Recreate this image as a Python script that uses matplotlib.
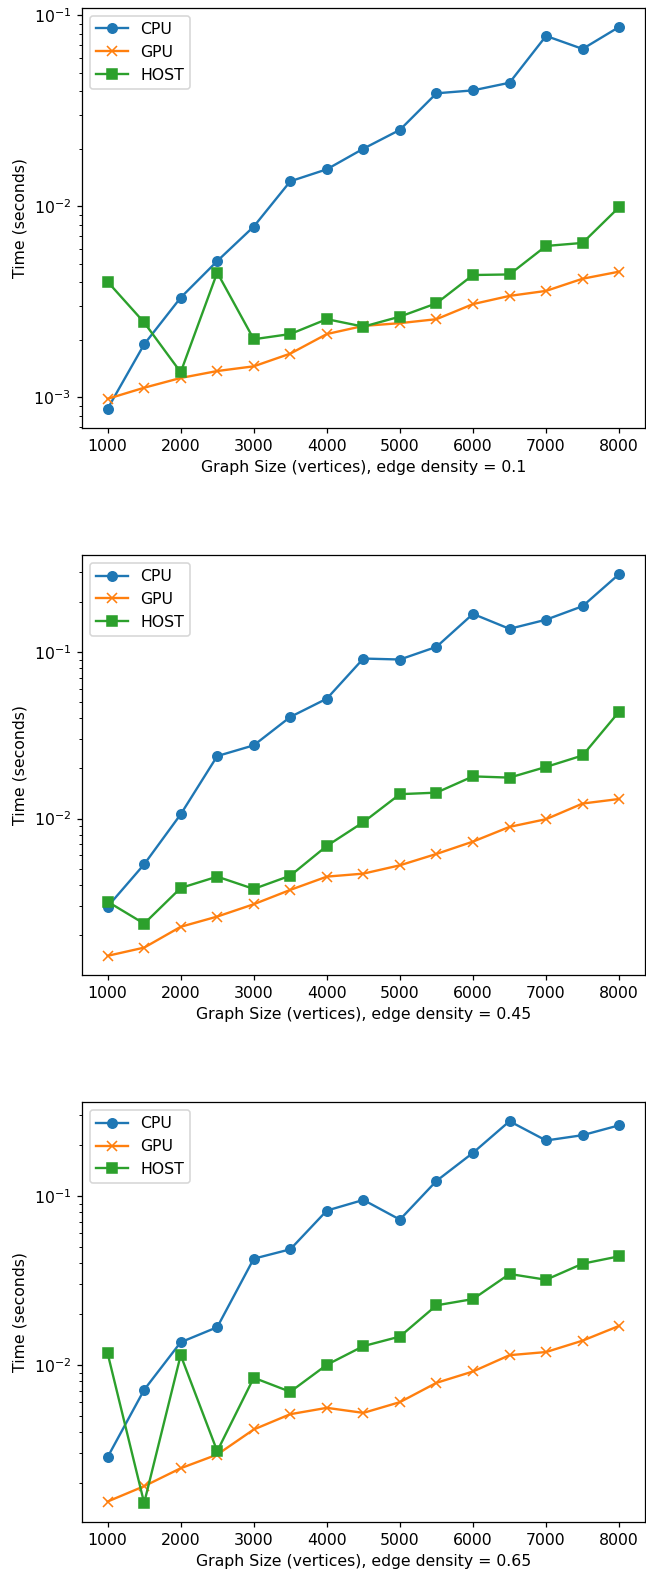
import matplotlib
matplotlib.use('Agg')
import matplotlib.pyplot as plt

# graph sizes (vertices)
sizes = [1000, 1500, 2000, 2500, 3000, 3500, 4000, 4500, 5000, 5500, 6000, 6500, 7000, 7500, 8000]

densities = ['0.1', '0.45', '0.65']

# timings (seconds), edge density = 0.1
cpu_01 = [8.7e-4, 1.89e-3, 3.32e-3, 5.16e-3, 7.82e-3, 0.0135, 0.0156, 0.0200, 0.0251,
          0.0390, 0.0404, 0.0443, 0.0779, 0.0666, 0.0868]
gpu_01 = [9.8e-4, 1.12e-3, 1.26e-3, 1.37e-3, 1.45e-3, 1.69e-3, 2.14e-3, 2.36e-3, 2.44e-3,
          2.56e-3, 3.07e-3, 3.39e-3, 3.60e-3, 4.17e-3, 4.54e-3]
host_01 = [4.02e-3, 2.46e-3, 1.35e-3, 4.49e-3, 2.01e-3, 2.14e-3, 2.56e-3, 2.34e-3, 2.64e-3,
           3.10e-3, 4.36e-3, 4.39e-3, 6.19e-3, 6.42e-3, 9.88e-3]

# edge density = 0.45
cpu_045 = [2.96e-3, 5.31e-3, 0.0106, 0.0237, 0.0275, 0.0407, 0.0524, 0.0912, 0.0900,
           0.1072, 0.169, 0.1375, 0.156, 0.188, 0.293]
gpu_045 = [1.50e-3, 1.68e-3, 2.24e-3, 2.58e-3, 3.06e-3, 3.73e-3, 4.48e-3, 4.67e-3, 5.24e-3,
           6.13e-3, 7.27e-3, 8.91e-3, 9.91e-3, 0.0123, 0.0131]
host_045 = [3.17e-3, 2.34e-3, 3.83e-3, 4.48e-3, 3.78e-3, 4.54e-3, 6.85e-3, 9.51e-3, 0.0140,
            0.0143, 0.0179, 0.0176, 0.0204, 0.0239, 0.0438]

# edge density = 0.65
cpu_065 = [2.84e-3, 7.11e-3, 0.0136, 0.0167, 0.0425, 0.0483, 0.0819, 0.0947, 0.0724,
           0.1227, 0.180, 0.277, 0.213, 0.229, 0.262]
gpu_065 = [1.55e-3, 1.91e-3, 2.44e-3, 2.94e-3, 4.14e-3, 5.10e-3, 5.56e-3, 5.19e-3, 6.01e-3,
           7.82e-3, 9.13e-3, 0.0114, 0.0119, 0.0139, 0.0170]
host_065 = [0.0117, 1.52e-3, 0.0114, 3.08e-3, 8.38e-3, 6.92e-3, 0.0100, 0.0129, 0.0147,
            0.0225, 0.0245, 0.0345, 0.0319, 0.0397, 0.0439]

results = [(cpu_01, gpu_01, host_01), (cpu_045, gpu_045, host_045), (cpu_065, gpu_065, host_065)]

dpi = 113
fig, axes = plt.subplots(3, 1, figsize=(646 / dpi, 1573 / dpi), dpi=dpi)
plt.subplots_adjust(left=0.127, right=0.998, top=0.995, bottom=0.0324, hspace=0.303)

for ax, density, (cpu, gpu, host) in zip(axes, densities, results):
    ax.plot(sizes, cpu, marker='o', label='CPU')
    ax.plot(sizes, gpu, marker='x', label='GPU')
    ax.plot(sizes, host, marker='s', label='HOST')
    ax.set_yscale('log')
    ax.set_xlabel('Graph Size (vertices), edge density = ' + density)
    ax.set_ylabel('Time (seconds)')
    ax.set_xticks(range(1000, 8001, 1000))
    ax.legend(loc='upper left')

plt.savefig('out.png', dpi=dpi)
